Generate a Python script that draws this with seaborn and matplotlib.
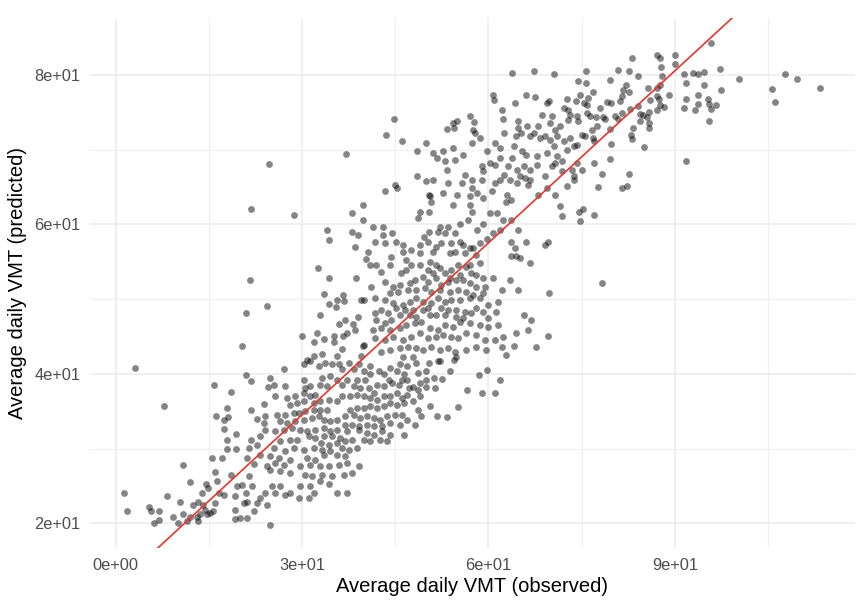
import numpy as np
import pandas as pd
import matplotlib
matplotlib.use("Agg")
import matplotlib.pyplot as plt
import seaborn as sns

# (observed, predicted) average daily VMT per vehicle, grouped by area of the plot
low_band = [
    (3.1, 40.8), (7.7, 35.7), (20.3, 43.7), (21.0, 39.9), (21.7, 39.0), (15.8, 38.5), (18.5, 37.6),
    (24.5, 38.3), (30.0, 45.0), (31.9, 44.3),
    (1.4, 24.0), (1.8, 21.7), (5.4, 22.2), (5.7, 21.7), (6.9, 21.6), (6.2, 20.1), (6.9, 20.5),
    (8.2, 23.6), (9.3, 20.8), (10.4, 22.9), (10.8, 27.8), (11.9, 25.5), (10.9, 21.3), (10.1, 20.1),
    (11.5, 20.3), (12.4, 22.5), (13.2, 22.9), (13.9, 24.1), (14.6, 25.3), (14.8, 24.7), (15.5, 28.7),
    (16.0, 26.9), (16.3, 25.6), (16.6, 24.1), (14.1, 22.4), (14.4, 21.8), (15.2, 21.4), (15.7, 21.6),
    (16.0, 22.7), (13.1, 20.8), (13.6, 21.3), (14.7, 21.3), (13.3, 20.3), (12.0, 20.9), (17.1, 28.8),
    (17.9, 29.9), (17.9, 31.2), (19.4, 29.9), (19.3, 31.9), (18.6, 26.4), (17.4, 23.8), (19.2, 23.6),
    (17.9, 35.4), (18.1, 34.2), (17.4, 33.8), (17.4, 32.6), (16.1, 34.4), (19.2, 21.8), (19.2, 20.6),
    (20.0, 20.7), (21.1, 20.7), (19.5, 25.0), (20.3, 25.1), (20.6, 22.7), (21.1, 22.9), (20.9, 24.0),
    (21.9, 25.0), (22.2, 21.6), (22.7, 22.7), (23.3, 23.4), (24.1, 24.1), (24.4, 22.5), (24.9, 19.8),
    (25.1, 25.0), (25.7, 24.1), (21.4, 26.3), (21.1, 28.8), (22.3, 27.9), (23.3, 29.2), (21.4, 30.1),
    (21.7, 31.2), (22.7, 30.5), (23.3, 31.7), (24.1, 32.5), (21.8, 35.2), (22.7, 34.0), (23.8, 35.9),
    (24.1, 34.4), (23.8, 33.4), (24.4, 27.7), (26.5, 25.0), (27.3, 23.8), (28.1, 24.1), (29.7, 25.0),
    (29.5, 23.4), (31.3, 25.0), (31.1, 23.4), (31.9, 24.1), (32.9, 25.6), (34.3, 25.2), (35.6, 24.1),
    (37.3, 24.1), (30.8, 41.9), (31.9, 42.4), (33.2, 42.6), (35.6, 42.4), (36.4, 43.3), (35.1, 44.2),
    (33.5, 44.6), (32.4, 45.4), (35.1, 45.1),
]

core_low = [
    (27.05, 40.58), (30.27, 41.25), (31.34, 41.70), (32.68, 41.03), (33.76, 41.47), (34.83, 41.25),
    (35.90, 41.25), (36.44, 40.58), (37.51, 41.47), (38.32, 40.58), (39.13, 41.25), (39.93, 40.36),
    (41.00, 41.03), (41.00, 39.91), (42.35, 40.36), (43.15, 39.91), (44.22, 40.80), (45.30, 40.36),
    (45.83, 41.25), (46.37, 39.91), (46.91, 41.03),
    (24.90, 39.46), (25.44, 38.57), (27.32, 38.35), (30.27, 39.24), (30.54, 38.13), (31.34, 38.35),
    (32.95, 38.57), (34.03, 38.35), (33.22, 39.46), (34.56, 39.69), (35.64, 39.24), (36.44, 38.57),
    (37.25, 39.24), (38.32, 38.35), (39.39, 38.13), (38.86, 39.24), (40.20, 39.24), (40.74, 38.13),
    (42.08, 38.57), (43.15, 38.35), (43.96, 39.24), (44.49, 38.79), (45.57, 38.57), (46.10, 39.24),
    (46.91, 39.24), (47.18, 38.13), (41.54, 37.46),
    (25.71, 37.01), (27.58, 36.79), (28.93, 37.01), (30.27, 37.46), (31.34, 37.01), (32.15, 37.23),
    (28.12, 35.89), (29.19, 36.12), (30.27, 36.34), (31.88, 36.12), (32.95, 36.34), (34.29, 36.56),
    (35.64, 36.34), (36.44, 37.01), (37.78, 37.01), (38.86, 37.23), (39.93, 37.01), (41.00, 36.79),
    (42.08, 36.56), (43.15, 37.01), (44.22, 37.01), (45.30, 37.46), (46.10, 36.79), (46.91, 37.23),
    (37.78, 35.22), (38.86, 35.45), (39.93, 35.45), (41.00, 35.67), (42.08, 35.45), (43.15, 35.67),
    (44.22, 36.12), (45.30, 35.89), (46.37, 36.12), (34.03, 35.22), (32.95, 35.22), (31.88, 35.22),
    (30.54, 35.00),
    (25.97, 34.55), (27.32, 34.55), (28.66, 34.78), (29.46, 34.78), (26.51, 33.66), (27.58, 33.44),
    (28.93, 33.66), (30.27, 33.88), (31.61, 34.11), (32.68, 34.33), (33.49, 33.88), (34.56, 33.66),
    (35.64, 33.88), (36.98, 34.33), (38.32, 34.55), (39.39, 34.11), (40.47, 34.33), (41.54, 34.11),
    (42.61, 33.88), (43.69, 34.33), (45.03, 34.55), (46.10, 34.55), (46.91, 33.88), (36.98, 33.21),
    (38.05, 33.21), (39.13, 32.99), (40.47, 33.21), (41.54, 32.99), (42.88, 32.99), (44.22, 33.44),
    (45.83, 33.21),
    (25.71, 32.32), (27.05, 32.54), (28.39, 32.77), (29.73, 32.54), (30.81, 32.32), (32.15, 32.54),
    (33.49, 32.77), (34.56, 32.32), (35.64, 32.54), (31.07, 31.65), (32.15, 31.43), (33.49, 31.65),
    (34.83, 31.65), (36.17, 31.43), (37.25, 32.32), (39.13, 32.54), (40.47, 32.10), (41.54, 31.88),
    (42.88, 32.32), (44.22, 31.88), (46.37, 31.88), (28.12, 31.21), (29.19, 31.21), (26.51, 30.98),
    (33.02, 30.76), (34.29, 30.54), (35.64, 30.76), (36.98, 30.98), (38.05, 31.21), (39.93, 31.21),
    (41.00, 30.98), (42.61, 31.21), (43.69, 30.98),
    (25.44, 30.09), (27.32, 29.64), (28.66, 30.09), (30.27, 29.87), (31.88, 30.09), (33.22, 29.87),
    (34.56, 29.64), (36.44, 30.09), (37.51, 29.87), (38.86, 30.09), (33.49, 29.20), (35.64, 29.20),
    (36.98, 28.97), (24.90, 28.97), (26.24, 28.75), (28.12, 28.53), (30.81, 28.75), (32.15, 28.53),
    (25.71, 28.08), (27.05, 27.86), (29.73, 27.63), (31.34, 27.86), (32.95, 27.63), (34.29, 27.63),
    (35.90, 27.86), (37.25, 28.08), (39.13, 27.63), (24.90, 27.19), (26.51, 26.96), (28.12, 26.74),
    (30.54, 26.52), (31.61, 26.29), (33.22, 26.52), (34.83, 26.29), (36.71, 26.52), (38.05, 26.74),
]

mid_low_band = [
    (48.1, 33.2), (49.2, 34.4), (51.7, 34.4), (53.3, 34.2), (50.6, 35.7), (48.7, 35.2), (47.8, 36.3),
    (47.8, 38.3), (48.7, 37.9), (48.9, 38.8), (50.0, 39.2), (51.3, 39.5), (52.6, 39.3), (51.4, 38.1),
    (53.8, 40.4), (55.1, 35.6), (56.5, 37.9), (58.5, 39.8), (59.7, 40.5), (59.0, 37.4), (61.0, 37.4),
    (61.9, 39.2), (64.1, 43.7), (67.7, 43.6), (54.5, 41.8), (51.9, 41.7), (50.5, 41.5), (50.0, 40.4),
    (48.4, 41.5), (48.7, 40.1), (39.8, 43.7), (39.5, 42.4), (52.2, 41.7), (50.0, 38.3), (48.9, 37.0),
]

core_mid = [
    (41.67, 57.68), (43.28, 57.46), (45.16, 57.68), (46.24, 57.23), (48.92, 57.23), (50.27, 57.68),
    (51.61, 57.01), (52.42, 57.46), (54.03, 57.46), (55.38, 57.68), (55.91, 57.23), (57.53, 56.79),
    (58.60, 57.46), (46.24, 56.34), (44.35, 55.67), (47.58, 56.56), (48.92, 56.12), (51.08, 56.34),
    (53.76, 56.12), (54.57, 56.34), (56.18, 56.12), (56.99, 56.79), (58.06, 55.89),
    (40.86, 54.55), (41.94, 54.55), (42.74, 53.66), (44.09, 54.55), (46.77, 55.22), (47.58, 54.55),
    (48.92, 54.55), (46.77, 53.88), (45.97, 53.44), (50.54, 55.00), (51.61, 54.55), (50.27, 53.88),
    (51.08, 53.44), (52.15, 54.11), (52.96, 53.44), (54.03, 53.88), (55.11, 54.55), (56.45, 54.33),
    (57.26, 53.44), (58.06, 53.21), (55.38, 53.21), (53.76, 52.77), (59.14, 52.77), (56.99, 54.55),
    (58.60, 54.78),
    (41.13, 51.65), (43.28, 52.32), (44.62, 51.65), (45.70, 51.88), (47.31, 52.10), (48.12, 52.54),
    (49.46, 52.99), (50.27, 52.32), (51.61, 52.77), (52.42, 51.88), (53.49, 52.32), (54.84, 52.54),
    (55.91, 52.54), (56.99, 52.10), (58.06, 51.65), (59.41, 51.65), (44.09, 50.76), (45.43, 50.98),
    (47.04, 51.21), (48.39, 51.21), (49.73, 51.43), (50.81, 50.98), (52.15, 51.21), (53.76, 50.98),
    (55.11, 51.21), (56.45, 50.98), (57.53, 50.54), (59.14, 50.76), (62.10, 51.21), (60.75, 52.77),
    (41.67, 50.09), (43.28, 49.87), (44.62, 49.42), (46.24, 49.20), (47.31, 49.64), (48.39, 50.09),
    (49.46, 49.64), (50.81, 49.42), (51.88, 50.09), (52.96, 49.64), (54.03, 49.87), (55.38, 49.87),
    (56.99, 50.09), (58.60, 50.09), (59.95, 49.20), (61.56, 49.64), (42.74, 48.53), (43.82, 48.08),
    (45.16, 48.75), (46.51, 48.53), (47.85, 48.53), (49.46, 48.53), (50.27, 48.75), (52.42, 48.75),
    (53.49, 48.53), (54.84, 48.53), (56.18, 48.30), (58.06, 48.75), (59.14, 48.30), (61.29, 48.30),
    (41.67, 48.08), (41.94, 47.19), (43.28, 46.74), (44.35, 47.19), (45.70, 47.86), (47.31, 47.86),
    (48.39, 47.63), (50.54, 47.86), (51.61, 47.86), (52.96, 47.86), (54.84, 47.63), (55.91, 47.41),
    (57.26, 48.08), (59.95, 47.41), (41.40, 45.85), (42.74, 46.07), (44.09, 45.85), (45.70, 46.07),
    (46.77, 46.52), (48.12, 46.74), (49.19, 46.96), (50.54, 46.07), (51.88, 45.85), (52.96, 46.52),
    (54.30, 46.29), (55.38, 46.96), (56.99, 46.74), (58.60, 46.52), (59.95, 46.29), (61.56, 46.52),
    (41.67, 44.73), (43.28, 44.51), (44.62, 44.96), (46.24, 44.51), (47.58, 44.96), (48.92, 45.40),
    (50.27, 44.73), (51.61, 44.96), (52.69, 45.18), (54.03, 44.96), (55.11, 44.73), (56.45, 45.40),
    (58.06, 45.18), (59.41, 44.51), (61.02, 44.51), (62.37, 44.96), (42.74, 42.95), (44.09, 43.17),
    (45.70, 43.39), (47.04, 43.62), (48.39, 43.39), (49.46, 43.17), (50.81, 43.62), (52.15, 43.17),
    (53.49, 43.39), (54.57, 42.95), (56.45, 43.17), (58.06, 43.62), (59.68, 43.17), (62.10, 43.62),
    (62.90, 42.50), (46.24, 42.28), (47.85, 42.28), (54.84, 42.28),
]

mid_band = [
    (43.4, 64.5), (44.9, 65.3), (45.2, 64.8), (50.5, 63.9), (50.8, 63.0), (50.5, 61.7), (54.3, 62.6),
    (57.0, 62.6), (57.3, 61.7), (62.8, 63.0), (63.6, 63.2), (71.5, 62.4), (49.0, 61.7), (48.7, 60.8),
    (39.8, 62.6), (38.0, 61.5), (39.8, 60.6), (41.4, 59.7), (43.0, 59.7), (38.0, 59.0), (39.0, 58.6),
    (38.5, 57.0), (40.6, 56.3), (43.0, 58.6), (44.4, 58.8), (49.7, 58.3), (50.5, 59.0), (51.9, 59.0),
    (52.2, 59.7), (53.0, 58.8), (53.5, 59.7), (54.6, 58.8), (55.4, 60.1), (56.7, 60.6), (58.1, 59.2),
    (59.2, 60.1), (40.3, 55.4), (38.7, 52.8), (40.0, 49.9), (39.5, 49.9), (35.5, 49.0), (36.9, 47.2),
    (38.2, 46.7), (39.0, 47.6), (38.5, 45.8), (40.0, 43.8), (59.7, 58.1), (60.7, 58.8), (61.8, 59.2),
    (60.2, 61.5), (61.3, 61.5), (62.4, 60.6), (63.7, 60.6), (64.8, 59.2), (66.1, 57.7), (63.7, 57.7),
    (64.2, 56.8), (63.7, 55.7), (64.5, 55.7), (65.0, 55.5), (66.7, 54.8), (69.1, 57.2), (69.6, 57.7),
    (63.5, 52.5), (64.7, 51.2), (65.8, 47.9), (64.5, 45.4), (69.6, 45.0), (69.8, 50.8), (66.8, 47.2),
    (66.3, 45.8), (36.6, 45.0),
]

upper_band = [
    (49.9, 70.9), (48.5, 69.8), (48.5, 66.5), (50.0, 65.8), (44.8, 74.1), (43.5, 72.0), (46.1, 71.2),
    (37.0, 69.4),
]

core_upper = [
    (63.76, 80.22), (67.35, 80.45), (70.57, 80.13), (75.73, 80.45), (74.39, 79.11), (75.73, 78.89),
    (60.81, 77.33), (60.91, 76.66), (66.07, 77.24), (67.41, 77.02), (69.50, 76.21), (64.29, 76.21),
    (72.61, 76.79), (74.12, 76.44), (75.30, 76.21), (76.10, 76.88), (69.82, 76.44),
    (57.05, 74.43), (57.69, 73.63), (54.26, 73.54), (53.29, 72.74), (54.90, 73.76), (54.47, 72.87),
    (57.58, 72.65), (57.85, 72.20), (58.66, 71.54), (62.15, 75.32), (62.31, 74.08), (64.83, 73.76),
    (64.83, 72.87), (65.21, 72.20), (66.17, 73.10), (67.25, 72.20), (66.71, 71.76), (68.05, 73.10),
    (68.59, 74.65), (69.93, 73.54), (70.20, 74.43), (70.74, 72.65), (71.54, 73.10), (72.08, 75.55),
    (72.88, 75.32), (72.88, 73.99), (73.15, 74.65), (74.22, 74.43), (74.49, 73.76), (75.03, 71.98),
    (75.83, 74.88), (76.37, 74.43), (74.76, 77.33), (75.83, 75.99),
    (62.52, 72.20), (64.46, 71.85), (61.88, 70.20), (61.07, 70.87), (64.03, 70.42), (65.37, 69.76),
    (66.07, 69.31), (67.78, 69.09), (69.39, 69.53), (70.47, 70.42), (71.00, 69.09), (68.32, 71.54),
    (69.13, 71.76), (69.93, 71.31), (71.00, 71.76), (72.08, 71.09), (73.15, 71.54), (73.69, 70.42),
    (72.61, 69.98), (74.22, 70.65), (75.57, 71.76),
    (51.14, 69.53), (51.68, 68.86), (52.75, 69.76), (53.02, 68.42), (54.36, 70.20), (54.63, 68.64),
    (55.97, 69.31), (57.32, 70.87), (59.73, 69.76), (60.27, 68.20), (58.93, 67.75), (61.07, 67.97),
    (61.88, 68.86), (63.76, 68.86), (63.22, 67.75), (64.56, 67.31), (65.64, 67.75), (65.10, 66.41),
    (66.71, 67.31), (67.78, 67.97), (66.71, 65.97), (69.13, 66.41), (70.20, 67.75), (70.74, 68.20),
    (71.81, 67.08), (71.81, 68.42), (73.42, 67.31), (73.69, 66.41), (75.03, 67.31), (74.22, 68.20),
    (51.14, 65.97), (53.29, 67.31), (53.56, 65.52), (55.71, 65.52), (56.24, 66.64), (57.32, 65.97),
    (57.32, 64.86), (58.93, 65.97), (59.19, 67.08), (58.12, 64.19), (60.54, 64.41), (61.07, 65.52),
    (61.88, 65.97), (62.42, 66.64), (63.49, 65.97), (64.56, 65.52), (65.90, 66.19), (66.44, 65.30),
    (68.05, 63.96), (69.39, 64.86), (70.74, 63.96), (72.61, 65.08), (73.69, 65.97),
    (50.61, 63.74), (52.75, 64.19), (54.90, 63.96), (57.05, 63.74), (59.19, 63.52), (62.95, 63.96),
]

high_band = [
    (95.9, 84.3), (87.1, 82.6), (87.6, 82.3), (90.1, 82.6), (90.0, 81.5), (87.8, 81.1), (83.1, 82.2),
    (80.8, 80.7), (82.6, 80.5), (84.0, 79.8), (88.0, 79.9), (91.5, 80.1), (93.0, 80.2), (93.7, 80.1),
    (94.7, 80.4), (97.3, 80.8), (100.4, 79.5), (107.8, 80.1), (109.6, 79.5), (113.3, 78.2), (105.6, 78.1),
    (106.1, 76.4), (91.8, 78.9), (94.7, 78.6), (97.4, 78.0), (93.7, 77.3), (91.8, 76.8), (93.7, 76.1),
    (95.4, 76.8), (95.5, 76.1), (95.9, 75.4), (96.6, 75.9), (91.5, 75.5), (93.3, 75.3), (95.5, 73.8),
    (91.8, 68.5), (79.6, 79.3), (82.1, 78.6), (81.7, 78.0), (82.6, 77.7), (85.6, 78.3), (87.1, 78.3),
    (87.6, 78.6), (89.0, 77.3), (87.1, 77.2), (86.0, 76.6), (87.4, 76.8), (88.2, 75.7), (87.6, 76.0),
    (87.1, 75.3), (85.8, 75.0), (84.8, 74.6), (85.5, 74.3), (85.8, 72.9), (85.8, 73.6), (84.4, 73.8),
    (84.4, 74.8), (84.0, 75.8), (82.8, 75.4), (81.5, 74.9), (80.9, 74.1), (80.4, 74.5), (81.5, 77.1),
    (81.2, 76.5), (79.7, 76.2), (79.0, 76.3), (78.0, 75.5), (78.8, 74.1), (77.3, 74.3), (77.5, 73.2),
    (76.6, 72.6), (76.9, 71.6), (77.0, 71.2), (76.9, 77.7), (78.5, 74.4), (79.6, 72.7), (79.7, 70.7),
    (79.6, 68.8), (83.1, 71.4), (83.0, 72.0), (83.2, 72.9), (85.1, 70.3), (77.0, 68.2), (78.2, 66.7),
    (82.7, 66.7), (77.6, 65.0), (81.5, 64.9), (82.3, 65.1), (71.8, 61.1), (74.5, 61.7), (75.2, 62.1),
    (74.7, 60.4), (77.0, 61.3), (78.2, 52.2),
]

left_outliers = [
    (24.6, 68.1), (21.8, 62.1), (28.7, 61.2), (34.0, 59.3), (34.3, 57.9), (32.5, 54.2), (34.3, 52.8),
    (21.6, 52.5), (33.6, 50.7), (35.6, 49.9), (36.7, 49.7), (36.6, 50.6), (24.4, 49.1), (21.0, 48.1),
    (34.4, 49.3), (32.9, 47.9), (35.9, 46.6), (37.3, 45.5),
]

# fitted reference line: predicted = intercept + slope * observed
fit_intercept = 11.5
fit_slope = 0.767

x_ticks = [0, 30, 60, 90]
x_tick_labels = ["0e+00", "3e+01", "6e+01", "9e+01"]
y_ticks = [20, 40, 60, 80]
y_tick_labels = ["2e+01", "4e+01", "6e+01", "8e+01"]

pairs = (low_band + core_low + mid_low_band + core_mid + mid_band
         + upper_band + core_upper + high_band + left_outliers)
df = pd.DataFrame(pairs, columns=["observed", "predicted"])

sns.set_theme(style="white")
plt.rcParams["font.family"] = ["Liberation Sans", "DejaVu Sans"]

fig = plt.figure(figsize=(8.62, 6.03), dpi=100)
ax = fig.add_axes([90 / 862, 1 - 548 / 603, (855 - 90) / 862, (548 - 18) / 603])

sns.scatterplot(data=df, x="observed", y="predicted", ax=ax,
                color="black", alpha=0.48, s=24, linewidth=0, zorder=3)
ax.axline((0, fit_intercept), slope=fit_slope, color="#E5362B", lw=1.2, zorder=4)

ax.set_xlim(-4.14, 119.0)
ax.set_ylim(16.7, 87.6)

ax.set_xticks(x_ticks)
ax.set_xticklabels(x_tick_labels)
ax.set_yticks(y_ticks)
ax.set_yticklabels(y_tick_labels)
ax.set_xticks([15, 45, 75, 105], minor=True)
ax.set_yticks([30, 50, 70], minor=True)

ax.grid(which="major", color="#EBEBEB", lw=1.1, zorder=0)
ax.grid(which="minor", color="#F0F0F0", lw=0.9, zorder=0)
ax.set_axisbelow(True)
for s in ax.spines.values():
    s.set_visible(False)

ax.tick_params(axis="both", which="both", length=0, labelsize=11.8,
               labelcolor="#4D4D4D", pad=7)
ax.set_xlabel("Average daily VMT (observed)", fontsize=14.5, color="black", labelpad=3)
ax.set_ylabel("Average daily VMT (predicted)", fontsize=14.5, color="black", labelpad=5)

fig.savefig("out.png", dpi=100, facecolor="white")
